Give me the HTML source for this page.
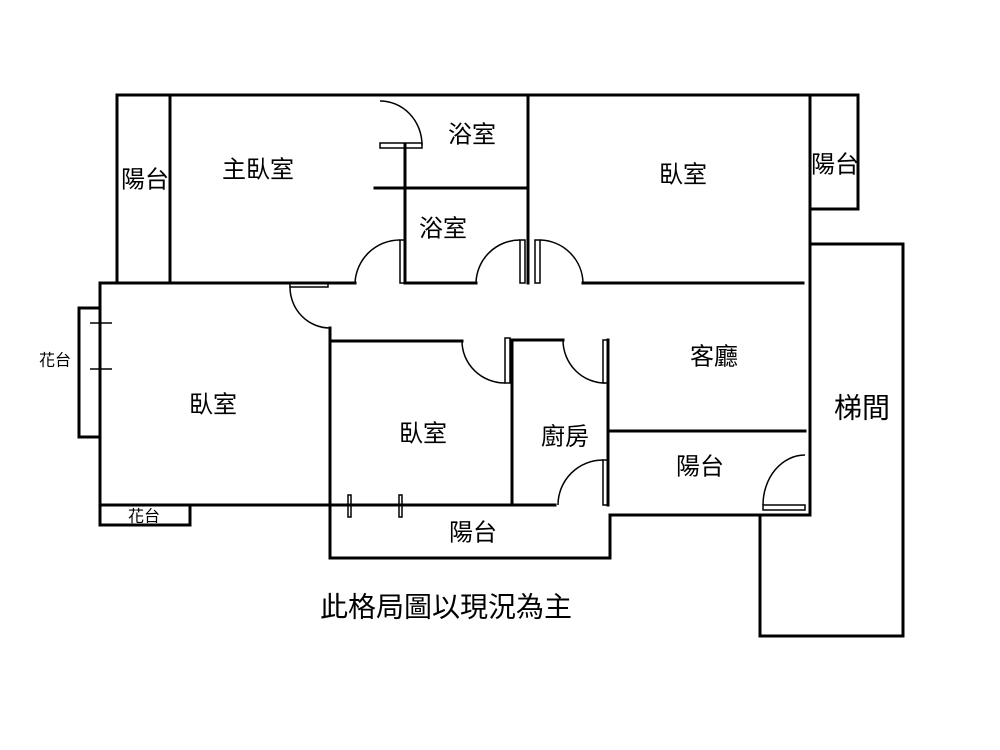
<!DOCTYPE html>
<html><head><meta charset="utf-8"><style>body{margin:0;background:#fff}svg{display:block}</style></head><body>
<svg width="1000" height="750" viewBox="0 0 1000 750" xmlns="http://www.w3.org/2000/svg" font-family="Liberation Sans, Noto Sans CJK TC, sans-serif">
<g stroke="#000" stroke-width="3" fill="none" stroke-linecap="square">
<line x1="117" y1="95" x2="858" y2="95"/>
<line x1="117" y1="95" x2="117" y2="282"/>
<line x1="170" y1="95" x2="170" y2="280"/>
<line x1="100" y1="283" x2="355" y2="283"/>
<line x1="405" y1="145" x2="405" y2="283"/>
<line x1="375" y1="188" x2="528" y2="188"/>
<line x1="405" y1="283" x2="476" y2="283"/>
<line x1="528" y1="95" x2="528" y2="283"/>
<line x1="583" y1="283" x2="803" y2="283"/>
<line x1="858" y1="95" x2="858" y2="209"/>
<line x1="810" y1="209" x2="858" y2="209"/>
<line x1="810" y1="95" x2="810" y2="515"/>
<line x1="810" y1="244" x2="903" y2="244"/>
<line x1="903" y1="244" x2="903" y2="636"/>
<line x1="760" y1="636" x2="903" y2="636"/>
<line x1="760" y1="515" x2="760" y2="636"/>
<line x1="100" y1="283" x2="100" y2="505"/>
<line x1="100" y1="505" x2="555" y2="505"/>
<line x1="330" y1="328" x2="330" y2="558"/>
<line x1="330" y1="341" x2="462" y2="341"/>
<line x1="512" y1="340" x2="512" y2="505"/>
<line x1="512" y1="340" x2="563" y2="340"/>
<line x1="608" y1="340" x2="608" y2="505"/>
<line x1="330" y1="558" x2="608" y2="558"/>
<line x1="610" y1="515" x2="610" y2="558"/>
<line x1="610" y1="515" x2="808" y2="515"/>
<line x1="610" y1="431" x2="805" y2="431"/>
<polyline points="100,308 79,308 79,437 100,437"/>
<polyline points="100,505 100,525 190,525 190,505"/>
</g>
<g stroke="#000" stroke-width="1.5" fill="none">
<path d="M355,283 A45,45 0 0 1 400,240"/>
<path d="M476,283 A44,44 0 0 1 520,240"/>
<path d="M583,283 A44,44 0 0 0 540,240"/>
<path d="M380,101 A42,44 0 0 1 422,145"/>
<path d="M290,287 A40,41 0 0 0 330,328"/>
<path d="M462,341 A43,42 0 0 0 505,383"/>
<path d="M563,340 A42,43 0 0 0 605,383"/>
<path d="M558,505 A45,45 0 0 1 603,460"/>
<path d="M763,505 A42,50 0 0 1 805,455"/>
<rect x="400" y="240" width="5" height="43"/>
<rect x="520" y="240" width="5" height="43"/>
<rect x="535" y="240" width="5" height="43"/>
<rect x="380" y="143" width="42" height="5"/>
<rect x="290" y="283" width="38" height="4"/>
<rect x="505" y="338" width="5" height="45"/>
<rect x="603" y="340" width="5" height="43"/>
<rect x="603" y="460" width="5" height="45"/>
<rect x="763" y="505" width="42" height="5"/>
<rect x="348" y="495" width="3" height="22"/>
<rect x="399" y="495" width="3" height="22"/>
<line x1="90" y1="323" x2="112" y2="323"/>
<line x1="90" y1="369" x2="112" y2="369"/>
</g>
<g font-size="24" fill="#000" text-anchor="middle" dominant-baseline="central">
<text x="145" y="180">陽台</text>
<text x="258" y="170">主臥室</text>
<text x="472" y="135">浴室</text>
<text x="443" y="229">浴室</text>
<text x="683" y="175">臥室</text>
<text x="835" y="165">陽台</text>
<text x="213" y="405">臥室</text>
<text x="423" y="434">臥室</text>
<text x="565" y="437">廚房</text>
<text x="714" y="357">客廳</text>
<text x="862" y="408" font-size="28">梯間</text>
<text x="700" y="467">陽台</text>
<text x="473" y="533">陽台</text>
<text x="55" y="361" font-size="16">花台</text>
<text x="144" y="517" font-size="16">花台</text>
<text x="446" y="607" font-size="28">此格局圖以現況為主</text>
</g>
</svg>
</body></html>
